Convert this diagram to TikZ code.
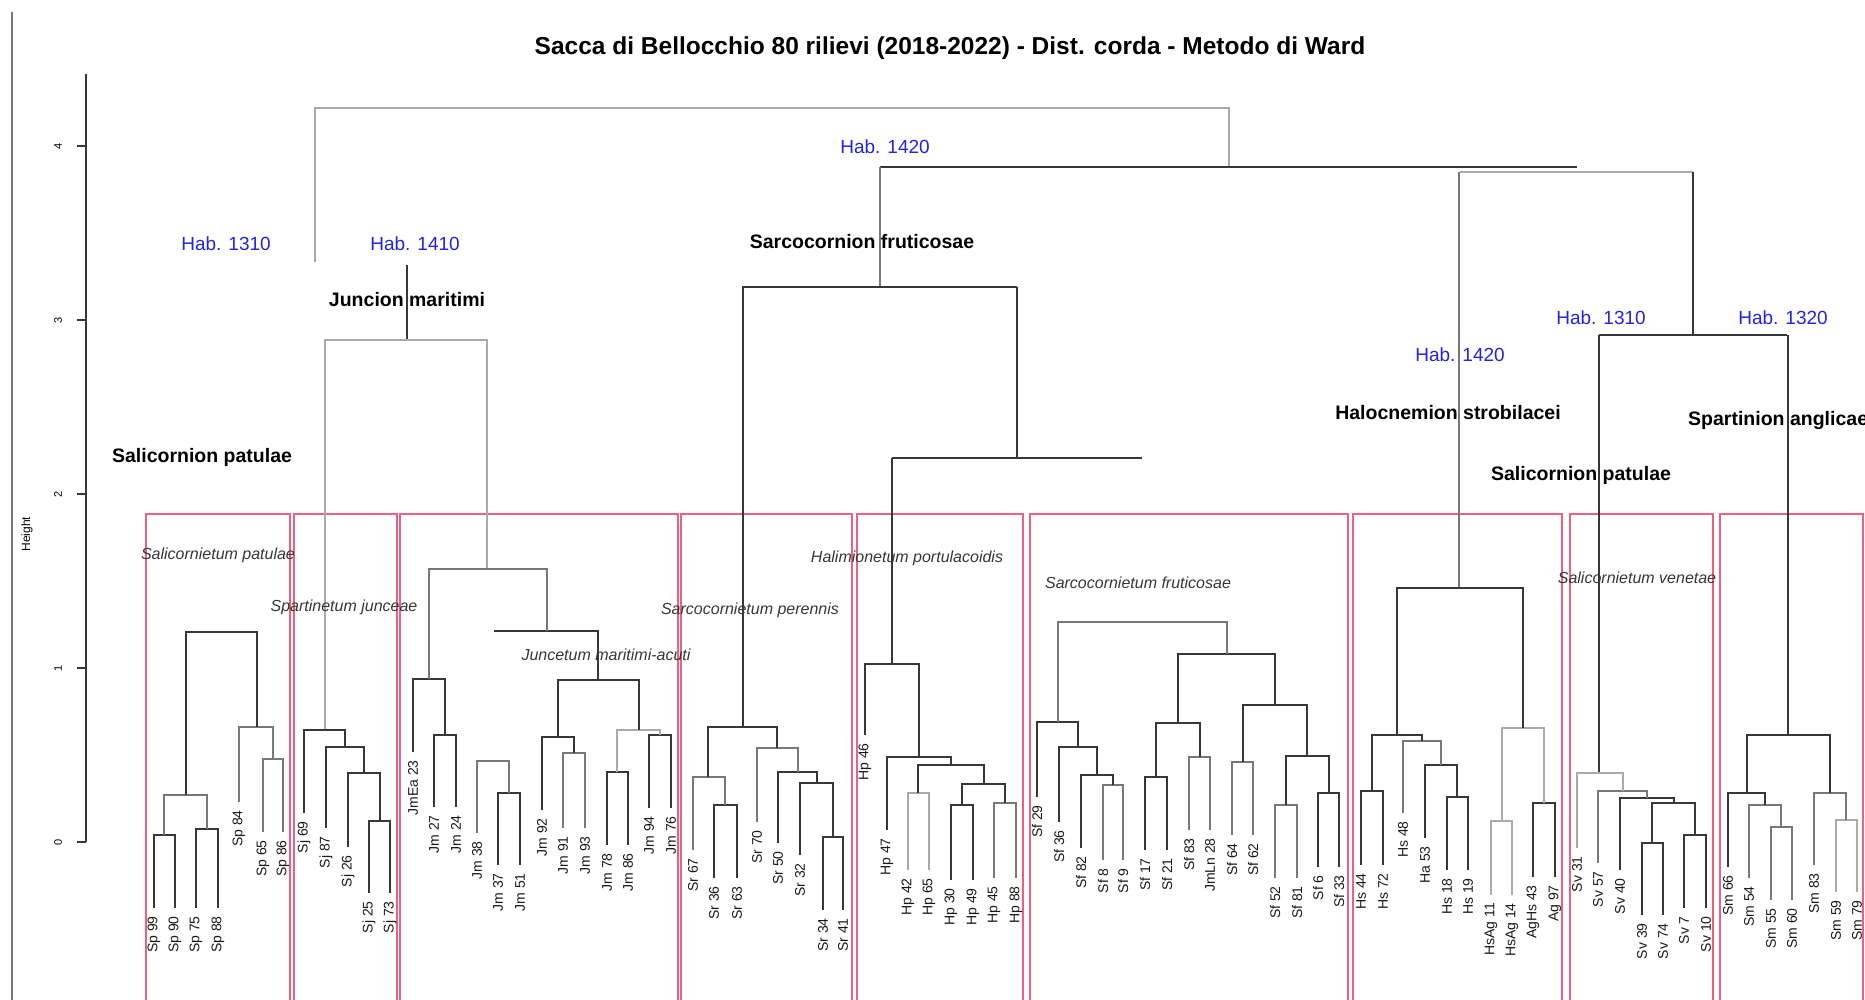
\documentclass[tikz,border=0pt]{standalone}
\usepackage{fontspec}
\setmainfont{Liberation Sans}
\definecolor{dkc}{RGB}{55,55,55}
\definecolor{ltc}{RGB}{170,170,170}
\definecolor{mdc}{RGB}{120,120,120}
\definecolor{boxc}{RGB}{236,96,130}
\definecolor{habc}{RGB}{35,35,230}
\definecolor{itc}{RGB}{55,55,55}
\tikzset{
  dk/.style={draw=dkc,line width=1.6pt},
  lt/.style={draw=ltc,line width=1.3pt},
  md/.style={draw=mdc,line width=1.4pt},
  pbox/.style={draw=boxc,line width=1.4pt},
  leaf/.style={rotate=90,anchor=east,inner sep=0pt,font=\fontsize{14}{14}\selectfont,text={rgb,255:red,25;green,25;blue,25}},
  hab/.style={inner sep=0pt,text=habc,font=\fontsize{19}{19}\selectfont},
  alli/.style={inner sep=0pt,font=\bfseries\fontsize{19.5}{19.5}\selectfont},
  asso/.style={inner sep=0pt,text=itc,font=\itshape\fontsize{16}{16}\selectfont},
  tickl/.style={rotate=90,inner sep=0pt,font=\fontsize{11}{11}\selectfont}
}
\newcommand{\dgU}[6][dk]{\draw[#1] (#2,#5) -- (#2,#4) -- (#3,#4) -- (#3,#6);}
\newcommand{\lf}[4]{\node[leaf] (#1) at (#2,#3+8) {#4};}
\begin{document}
\begin{tikzpicture}[x=1pt,y=-1pt]
\useasboundingbox (0,0) rectangle (1865,1000);
\fill[white] (0,0) rectangle (1865,1000);
% frame line and axis
\draw[mdc,line width=1.2pt] (12,12) -- (12,1000);
\draw[dkc,line width=1.3pt] (86,74) -- (86,842);
\foreach \k in {0,1,2,3,4}{
  \draw[dkc,line width=1.2pt] (77,842-174*\k) -- (86,842-174*\k);
  \node[tickl] (t\k) at (58,842-174*\k) {\k};
}
\node[rotate=90,inner sep=0pt,font=\fontsize{12}{12}\selectfont] (ylab) at (27,534) {Height};
% title
\node[inner sep=0pt,font=\bfseries\fontsize{24.5}{24.5}\selectfont] (title) at (950,48) {Sacca di Bellocchio 80 rilievi (2018-2022) - Dist. corda - Metodo di Ward};
% pink boxes
\foreach \l/\r in {146/290,294/397,400/678,681/852,857/1023,1030/1348,1353/1562,1570/1713,1720/1863}{
  \draw[pbox] (\l,1000) -- (\l,514) -- (\r,514) -- (\r,1000);
}
% upper tree
\draw[lt] (315,262) -- (315,108) -- (1229,108) -- (1229,167);
\draw[dk] (880,167) -- (1577,167);
\draw[lt] (1460,172) -- (1693,172);
\draw[dk] (1693,172) -- (1693,335);
\draw[dk] (1599,335) -- (1787,335);
\draw[md] (880,167) -- (880,287);
\draw[dk] (742,287) -- (1017,287);
\draw[dk] (1017,287) -- (1017,458);
\draw[dk] (892,458) -- (1142,458);
\draw[dk] (407,265) -- (407,340);
\draw[lt] (325,730) -- (325,340) -- (487,340) -- (487,569);
\draw[dk] (743,287) -- (743,727);
\draw[dk] (892,458) -- (892,664);
\draw[md] (1459,172) -- (1459,588);
\draw[dk] (1599,335) -- (1599,773);
\draw[dk] (1788,335) -- (1788,735);
% cluster Sp
\dgU{154}{175}{835}{908}{908}
\dgU{196}{218}{829}{908}{908}
\dgU[md]{164}{207}{795}{835}{829}
\dgU[md]{263}{283}{759}{832}{832}
\dgU[md]{239}{273}{727}{802}{759}
\dgU{186}{257}{632}{795}{727}
% cluster Sj
\dgU{369}{390}{821}{893}{893}
\dgU{348}{380}{773}{847}{821}
\dgU{326}{364}{747}{828}{773}
\dgU{304}{345}{730}{813}{747}
% cluster Jm
\dgU{434}{456}{735}{807}{807}
\dgU{413}{445}{679}{752}{735}
\dgU{498}{520}{793}{865}{865}
\dgU[md]{477}{509}{761}{833}{793}
\dgU[md]{563}{585}{753}{828}{828}
\dgU{542}{574}{737}{810}{753}
\dgU{607}{628}{772}{845}{845}
\dgU{649}{671}{735}{808}{808}
\dgU[lt]{617}{660}{730}{772}{735}
\dgU{558}{639}{680}{737}{730}
\draw[dk] (494,631) -- (598,631) -- (598,680);
\dgU[md]{429}{547}{569}{679}{631}
% cluster Sr
\dgU{714}{737}{805}{878}{878}
\dgU[md]{693}{725}{777}{850}{805}
\dgU{823}{843}{837}{910}{910}
\dgU{800}{833}{783}{855}{837}
\dgU{778}{817}{772}{843}{783}
\dgU[md]{757}{798}{748}{822}{772}
\dgU{708}{777}{727}{777}{748}
% cluster Hp
\dgU{951}{973}{805}{880}{880}
\dgU[md]{994}{1016}{803}{878}{878}
\dgU{962}{1005}{784}{805}{803}
\dgU[lt]{908}{929}{793}{870}{870}
\dgU{918}{984}{765}{793}{784}
\dgU{887}{951}{757}{830}{765}
\dgU{865}{919}{664}{735}{757}
% cluster Sf
\dgU[md]{1103}{1123}{785}{860}{860}
\dgU{1081}{1113}{775}{848}{785}
\dgU{1059}{1097}{747}{822}{775}
\dgU{1037}{1078}{722}{797}{747}
\dgU{1145}{1167}{777}{850}{850}
\dgU[md]{1189}{1210}{757}{830}{830}
\dgU{1156}{1200}{723}{777}{757}
\dgU[md]{1232}{1253}{762}{835}{835}
\dgU[md]{1275}{1297}{805}{878}{878}
\dgU{1318}{1339}{793}{867}{867}
\dgU{1286}{1329}{756}{805}{793}
\dgU{1243}{1307}{705}{762}{756}
\dgU{1178}{1275}{654}{723}{705}
\dgU[md]{1058}{1227}{622}{722}{654}
% cluster Hs
\dgU{1361}{1383}{791}{865}{865}
\dgU{1447}{1468}{797}{870}{870}
\dgU{1425}{1457}{765}{838}{797}
\dgU[md]{1403}{1441}{741}{813}{765}
\dgU{1372}{1422}{735}{791}{741}
\dgU[lt]{1491}{1512}{821}{895}{895}
\dgU{1533}{1555}{803}{877}{877}
\dgU[lt]{1502}{1544}{728}{821}{803}
\dgU{1397}{1523}{588}{735}{728}
% cluster Sv
\dgU{1642}{1663}{843}{915}{915}
\dgU{1684}{1706}{835}{908}{908}
\dgU{1652}{1695}{803}{843}{835}
\dgU{1620}{1674}{798}{870}{803}
\dgU[md]{1598}{1647}{791}{863}{798}
\dgU[lt]{1577}{1623}{773}{848}{791}
% cluster Sm
\dgU[md]{1771}{1792}{827}{900}{900}
\dgU[md]{1749}{1781}{805}{878}{827}
\dgU{1728}{1765}{793}{867}{805}
\dgU[lt]{1836}{1857}{820}{892}{892}
\dgU[md]{1814}{1846}{793}{865}{820}
\dgU{1747}{1830}{735}{793}{793}
% leaf labels
\lf{a1}{154}{908}{Sp 99}\lf{a2}{175}{908}{Sp 90}\lf{a3}{196}{908}{Sp 75}\lf{a4}{218}{908}{Sp 88}
\lf{a5}{239}{802}{Sp 84}\lf{a6}{263}{832}{Sp 65}\lf{a7}{283}{832}{Sp 86}
\lf{b1}{304}{813}{Sj 69}\lf{b2}{326}{828}{Sj 87}\lf{b3}{348}{847}{Sj 26}\lf{b4}{369}{893}{Sj 25}\lf{b5}{390}{893}{Sj 73}
\lf{c1}{413}{752}{JmEa 23}\lf{c2}{434}{807}{Jm 27}\lf{c3}{456}{807}{Jm 24}\lf{c4}{477}{833}{Jm 38}
\lf{c5}{498}{865}{Jm 37}\lf{c6}{520}{865}{Jm 51}\lf{c7}{542}{810}{Jm 92}\lf{c8}{563}{828}{Jm 91}
\lf{c9}{585}{828}{Jm 93}\lf{c10}{607}{845}{Jm 78}\lf{c11}{628}{845}{Jm 86}\lf{c12}{649}{808}{Jm 94}\lf{c13}{671}{808}{Jm 76}
\lf{d1}{693}{850}{Sr 67}\lf{d2}{714}{878}{Sr 36}\lf{d3}{737}{878}{Sr 63}\lf{d4}{757}{822}{Sr 70}
\lf{d5}{778}{843}{Sr 50}\lf{d6}{800}{855}{Sr 32}\lf{d7}{823}{910}{Sr 34}\lf{d8}{843}{910}{Sr 41}
\lf{e1}{865}{735}{Hp 46}\lf{e2}{887}{830}{Hp 47}\lf{e3}{908}{870}{Hp 42}\lf{e4}{929}{870}{Hp 65}
\lf{e5}{951}{880}{Hp 30}\lf{e6}{973}{880}{Hp 49}\lf{e7}{994}{878}{Hp 45}\lf{e8}{1016}{878}{Hp 88}
\lf{f1}{1037}{797}{Sf 29}\lf{f2}{1059}{822}{Sf 36}\lf{f3}{1081}{848}{Sf 82}\lf{f4}{1103}{860}{Sf 8}
\lf{f5}{1123}{860}{Sf 9}\lf{f6}{1145}{850}{Sf 17}\lf{f7}{1167}{850}{Sf 21}\lf{f8}{1189}{830}{Sf 83}
\lf{f9}{1210}{830}{JmLn 28}\lf{f10}{1232}{835}{Sf 64}\lf{f11}{1253}{835}{Sf 62}\lf{f12}{1275}{878}{Sf 52}
\lf{f13}{1297}{878}{Sf 81}\lf{f14}{1318}{867}{Sf 6}\lf{f15}{1339}{867}{Sf 33}
\lf{g1}{1361}{865}{Hs 44}\lf{g2}{1383}{865}{Hs 72}\lf{g3}{1403}{813}{Hs 48}\lf{g4}{1425}{838}{Ha 53}
\lf{g5}{1447}{870}{Hs 18}\lf{g6}{1468}{870}{Hs 19}\lf{g7}{1491}{895}{HsAg 11}\lf{g8}{1512}{895}{HsAg 14}
\lf{g9}{1533}{877}{AgHs 43}\lf{g10}{1555}{877}{Ag 97}
\lf{h1}{1577}{848}{Sv 31}\lf{h2}{1598}{863}{Sv 57}\lf{h3}{1620}{870}{Sv 40}\lf{h4}{1642}{915}{Sv 39}
\lf{h5}{1663}{915}{Sv 74}\lf{h6}{1684}{908}{Sv 7}\lf{h7}{1706}{908}{Sv 10}
\lf{i1}{1728}{867}{Sm 66}\lf{i2}{1749}{878}{Sm 54}\lf{i3}{1771}{900}{Sm 55}\lf{i4}{1792}{900}{Sm 60}
\lf{i5}{1814}{865}{Sm 83}\lf{i6}{1836}{892}{Sm 59}\lf{i7}{1857}{892}{Sm 79}
% habitat labels
\node[hab] (h1310a) at (226,244) {Hab. 1310};
\node[hab] (h1410) at (415,244) {Hab. 1410};
\node[hab] (h1420a) at (885,147) {Hab. 1420};
\node[hab] (h1420b) at (1460,355) {Hab. 1420};
\node[hab] (h1310b) at (1601,318) {Hab. 1310};
\node[hab] (h1320) at (1783,318) {Hab. 1320};
% alliances
\node[alli] (al1) at (407,300) {Juncion maritimi};
\node[alli] (al2) at (202,457) {Salicornion patulae};
\node[alli] (al3) at (862,242) {Sarcocornion fruticosae};
\node[alli] (al4) at (1448,413) {Halocnemion strobilacei};
\node[alli] (al5) at (1581,475) {Salicornion patulae};
\node[alli,anchor=west] (al6) at (1688,420) {Spartinion anglicae};
% associations
\node[asso] (as1) at (218,555) {Salicornietum patulae};
\node[asso] (as2) at (344,607) {Spartinetum junceae};
\node[asso] (as3) at (606,655) {Juncetum maritimi-acuti};
\node[asso] (as4) at (750,610) {Sarcocornietum perennis};
\node[asso] (as5) at (907,558) {Halimionetum portulacoidis};
\node[asso] (as6) at (1138,583) {Sarcocornietum fruticosae};
\node[asso] (as7) at (1637,578) {Salicornietum venetae};
\end{tikzpicture}
\end{document}
